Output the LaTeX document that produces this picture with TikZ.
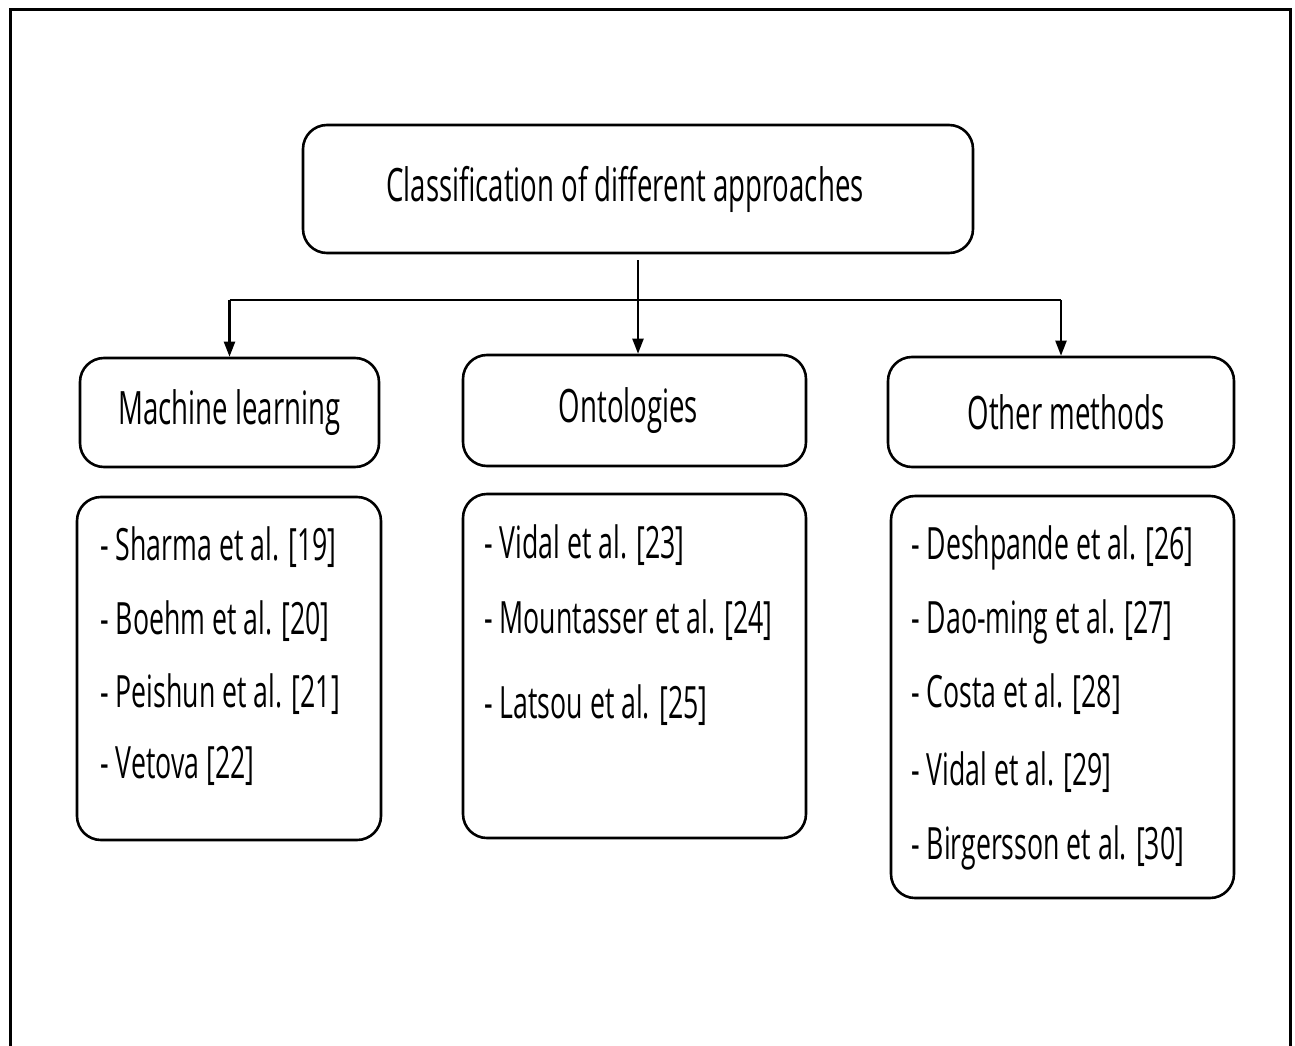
\documentclass[tikz,border=0pt]{standalone}
\usepackage{fontspec}
\setmainfont[FakeStretch=0.6]{Open Sans}
\usetikzlibrary{arrows.meta}
\begin{document}
\begin{tikzpicture}[x=1pt,y=-1pt,
  box/.style={draw=black, line width=2.6pt, rounded corners=24pt, fill=white},
  head/.style={box, font=\fontsize{46}{52}\selectfont, inner sep=0pt},
  item/.style={anchor=west, inner sep=0pt, font=\fontsize{44.5}{50}\selectfont},
  link/.style={line width=2.2pt, draw=black},
  arr/.style={link, -{Triangle[length=15pt,width=11pt]}}]
  \useasboundingbox (0,0) rectangle (1295,1046);
  \clip (0,0) rectangle (1295,1046);
  % outer frame, running past the lower edge
  \draw[line width=3pt] (10,10) rectangle (1290,1080);

  % category boxes (the trailing/leading space nudges the label sideways)
  \node[head, minimum width=670pt, minimum height=128pt] (top) at (638,189) {Classification of different approaches\hspace*{26pt}};
  \node[head, minimum width=299pt, minimum height=109pt] (ml) at (229.5,412.5) {Machine learning};
  \node[head, minimum width=343pt, minimum height=111pt] (ont) at (634.5,410.5) {Ontologies\hspace*{12pt}};
  \node[head, minimum width=346pt, minimum height=110pt] (oth) at (1061,412) {\hspace*{10pt}Other methods};

  % reference lists
  \node[box, minimum width=304pt, minimum height=343pt] (mllist) at (229,668.5) {};
  \node[box, minimum width=343pt, minimum height=344pt] (ontlist) at (634.5,666) {};
  \node[box, minimum width=343pt, minimum height=402pt] (othlist) at (1062.5,697) {};

  \node[item] (m1) at (100,547) {- Sharma et al. [19]};
  \node[item] (m2) at (100,621) {- Boehm et al. [20]};
  \node[item] (m3) at (100,694) {- Peishun et al. [21]};
  \node[item] (m4) at (100,766) {- Vetova [22]};

  \node[item] (o1) at (484,545) {- Vidal et al. [23]};
  \node[item] (o2) at (484,620) {- Mountasser et al. [24]};
  \node[item] (o3) at (484,705) {- Latsou et al. [25]};

  \node[item] (t1) at (911,548) {- Deshpande et al. [26]};
  \node[item] (t2) at (911,622) {- Dao-ming et al. [27]};
  \node[item] (t3) at (911,694) {- Costa et al. [28]};
  \node[item] (t4) at (911,772) {- Vidal et al. [29]};
  \node[item] (t5) at (911,848) {- Birgersson et al. [30]};

  % connectors
  \coordinate (trunk) at (638,260);
  \coordinate (bus) at (638,300);
  \draw[arr] (trunk) -- (ont.north -| trunk);
  \draw[link] (bus -| ml) -- (bus -| oth);
  \draw[arr] (bus -| ml) -- (ml.north);
  \draw[arr] (bus -| oth) -- (oth.north);
\end{tikzpicture}
\end{document}
